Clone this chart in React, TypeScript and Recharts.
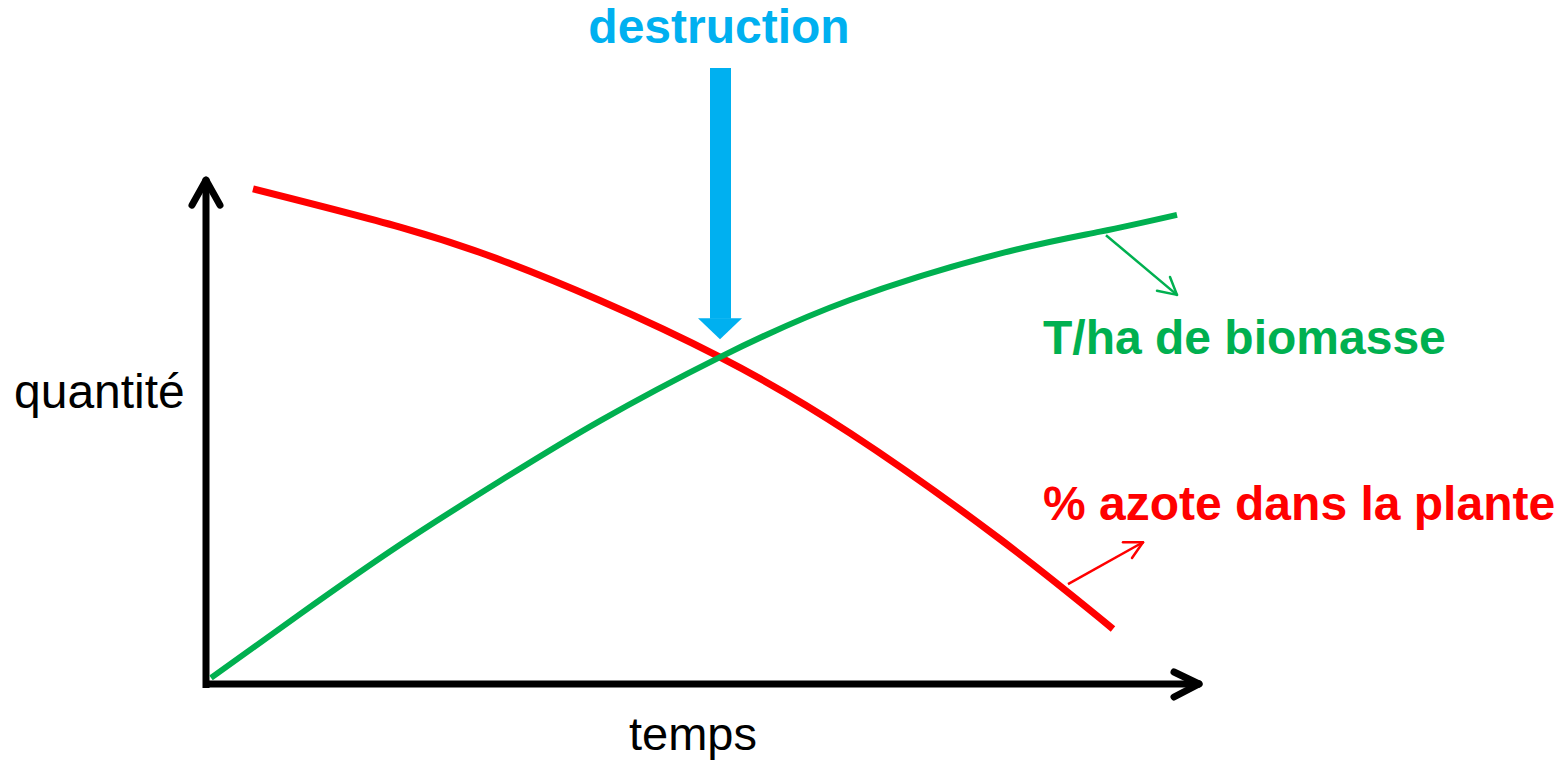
import { LineChart, Line, XAxis, YAxis, ReferenceLine, ReferenceDot } from 'recharts'

// Biomasse (T/ha) - courbe verte croissante
const biomasseX = [0.5, 9.4, 19.4, 29.4, 39.4, 51.4, 64.4, 79.4, 89.4, 97.1]
const biomasseY = [1.2, 13.7, 27.3, 39.8, 51.6, 64.1, 75.3, 84.4, 88.7, 92.0]

// % azote dans la plante - courbe rouge décroissante
const azoteX = [4.7, 19.4, 29.4, 39.4, 51.4, 64.4, 79.4, 90.7]
const azoteY = [97.1, 89.6, 83.2, 75.2, 64.1, 49.2, 28.4, 10.8]

const biomasse = biomasseX.map((x, i) => ({ x, y: biomasseY[i] }))
const azote = azoteX.map((x, i) => ({ x, y: azoteY[i] }))

const GREEN = '#00B050'
const RED = '#FF0000'
const BLUE = '#00B0F0'
const FONT = '"Liberation Sans", Arial, sans-serif'

function Triangle(props: any) {
  const { cx, cy } = props
  return <polygon points={`${cx - 22},${cy - 21} ${cx + 22},${cy - 21} ${cx},${cy}`} fill={BLUE} />
}

type Seg = [{ x: number; y: number }, { x: number; y: number }]

function seg(x1: number, y1: number, x2: number, y2: number): Seg {
  return [{ x: x1, y: y1 }, { x: x2, y: y2 }]
}

export default function App() {
  const axisStyle = { stroke: '#000', strokeWidth: 7, strokeLinecap: 'round' as const }
  return (
    <div style={{ position: 'absolute', left: 0, top: 0, width: 1564, height: 770, background: '#fff' }}>
      <LineChart width={1564} height={770} margin={{ top: 174, right: 358, bottom: 86, left: 206 }}>
        <XAxis type="number" dataKey="x" domain={[0, 100]} hide />
        <YAxis type="number" dataKey="y" domain={[0, 100]} hide />

        {/* axes */}
        <ReferenceLine segment={seg(0, -0.8, 0, 98.8)} ifOverflow="visible" stroke="#000" strokeWidth={7} />
        <ReferenceLine segment={seg(-0.3, 0, 99.3, 0)} ifOverflow="visible" stroke="#000" strokeWidth={7} />
        <ReferenceLine segment={seg(-1.4, 93.9, 0, 98.8)} ifOverflow="visible" {...axisStyle} />
        <ReferenceLine segment={seg(1.4, 93.9, 0, 98.8)} ifOverflow="visible" {...axisStyle} />
        <ReferenceLine segment={seg(96.8, 2.35, 99.3, 0)} ifOverflow="visible" {...axisStyle} />
        <ReferenceLine segment={seg(96.8, -2.55, 99.3, 0)} ifOverflow="visible" {...axisStyle} />

        <Line data={azote} dataKey="y" type="natural" stroke={RED} strokeWidth={7} dot={false} isAnimationActive={false} />
        <Line data={biomasse} dataKey="y" type="natural" stroke={GREEN} strokeWidth={6} dot={false} isAnimationActive={false} />

        {/* flèche destruction */}
        <ReferenceLine segment={seg(51.45, 120.8, 51.45, 71.6)} ifOverflow="visible" stroke={BLUE} strokeWidth={21} />
        <ReferenceDot x={51.4} y={67.6} ifOverflow="visible" shape={Triangle} />

        {/* petites flèches vers les légendes */}
        <ReferenceLine segment={seg(90.0, 88.0, 97.1, 76.3)} ifOverflow="visible" stroke={GREEN} strokeWidth={2.5} />
        <ReferenceLine segment={seg(95.1, 77.1, 97.1, 76.3)} ifOverflow="visible" stroke={GREEN} strokeWidth={2.5} strokeLinecap="round" />
        <ReferenceLine segment={seg(96.4, 79.8, 97.1, 76.3)} ifOverflow="visible" stroke={GREEN} strokeWidth={2.5} strokeLinecap="round" />
        <ReferenceLine segment={seg(86.2, 19.6, 93.7, 27.8)} ifOverflow="visible" stroke={RED} strokeWidth={2.5} />
        <ReferenceLine segment={seg(91.7, 27.8, 93.7, 27.8)} ifOverflow="visible" stroke={RED} strokeWidth={2.5} strokeLinecap="round" />
        <ReferenceLine segment={seg(92.6, 24.7, 93.7, 27.8)} ifOverflow="visible" stroke={RED} strokeWidth={2.5} strokeLinecap="round" />

        <text x={719} y={43} textAnchor="middle" fontFamily={FONT} fontWeight="bold" fontSize={48} fill={BLUE}>destruction</text>
        <text x={1043} y={354} fontFamily={FONT} fontWeight="bold" fontSize={48} fill={GREEN}>T/ha de biomasse</text>
        <text x={1043} y={520} fontFamily={FONT} fontWeight="bold" fontSize={48} fill={RED}>% azote dans la plante</text>
        <text x={14} y={408} fontFamily={FONT} fontSize={48} fill="#000">quantité</text>
        <text x={629} y={750} fontFamily={FONT} fontSize={47} fill="#000">temps</text>
      </LineChart>
    </div>
  )
}
